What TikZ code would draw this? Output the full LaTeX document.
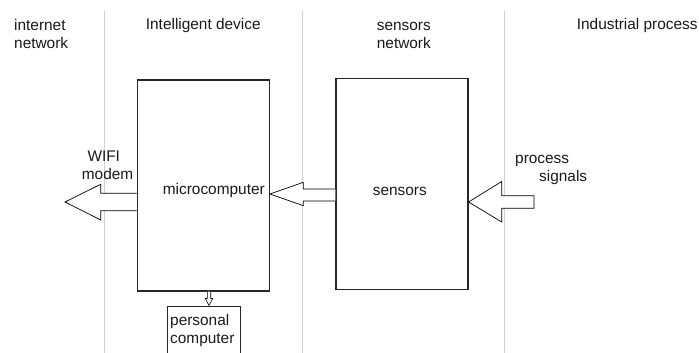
\documentclass[tikz,border=0pt]{standalone}
\usepackage{fontspec}
\setmainfont{Liberation Sans}
\usetikzlibrary{calc}
\tikzset{
  sep_line/.style = {draw=black!18, line width=1pt},
  blk_box/.style = {draw=black!85, line width=1.2pt, inner sep=0pt},
  lbl_txt/.style = {align=left, inner sep=0pt, anchor=base west, text=black!90, font=\fontsize{15.4}{18}\selectfont},
  fat_arr/.style = {draw=black, line width=0.7pt, fill=white, line join=miter}
}
\begin{document}
\begin{tikzpicture}[x=1pt, y=-1pt]
	\clip (0,0) rectangle (699,353);
	\foreach \sx in {104,302,504}
		\draw[sep_line] (\sx,11) -- (\sx,353);
	% boxes
	\node[blk_box, minimum width=132pt, minimum height=211pt] (micro) at (203.3,185.5) {};
	\node[blk_box, minimum width=132pt, minimum height=211pt] (sens) at (402,183.8) {};
	\node[blk_box, minimum width=73pt, minimum height=60pt, anchor=north west] (pc) at (167,305.5) {};
	% free ends
	\coordinate (net) at (65,202);
	\coordinate (proc) at (534,202);
	% arrows
	\draw[fat_arr] (micro.west |- 0,193.3) -- (100.7,193.3) -- (100.7,184.3) -- (net)
		-- (100.7,220) -- (100.7,210.7) -- (micro.west |- 0,210.7);
	\draw[fat_arr] (sens.west |- 0,189) -- (303.3,189) -- (303.3,182.3) -- (micro.east |- 0,194)
		-- (303.3,205.7) -- (303.3,201) -- (sens.west |- 0,201);
	\draw[fat_arr] (proc |- 0,195.7) -- (501.7,195.7) -- (501.7,181.5) -- (sens.east |- 0,202)
		-- (501.7,222) -- (501.7,208.3) -- (proc |- 0,208.3) -- cycle;
	\draw[fat_arr, line width=0.6pt] (207.3,0 |- micro.south) -- (207.3,298.5) -- (205.3,298.5) -- (209,0 |- pc.north)
		-- (212.7,298.5) -- (210.7,298.5) -- (210.7,0 |- micro.south);
	% labels (base = last line)
	\node[lbl_txt] (inet) at (14,48.3) {internet\\network};
	\node[lbl_txt] (idev) at (145.7,30) {Intelligent device};
	\node[lbl_txt] (snet) at (376.7,48.3) {sensors\\network};
	\node[lbl_txt] (iproc) at (576.7,29.3) {Industrial process};
	\node[lbl_txt] (wifi) at (81.7,179.3) {\hspace*{5.6pt}WIFI\\modem};
	\node[lbl_txt] (micro_txt) at (162.7,194) {microcomputer};
	\node[lbl_txt] (sens_txt) at (372.7,195.7) {sensors};
	\node[lbl_txt] (sig) at (515,181.7) {process\\\hspace*{24pt}signals};
	\node[lbl_txt] (pc_txt) at (170,343.3) {personal\\computer};
\end{tikzpicture}
\end{document}
